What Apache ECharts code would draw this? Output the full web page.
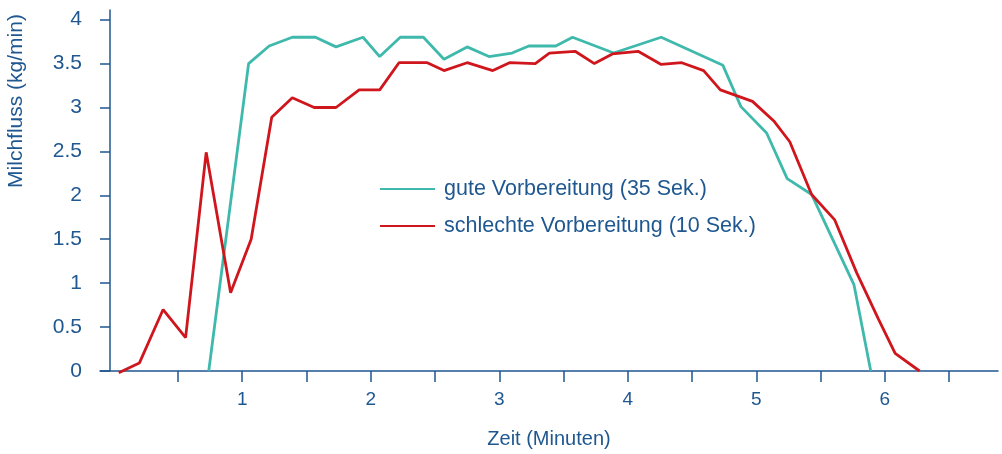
<!DOCTYPE html>
<html lang="de">
<head>
    <meta charset="UTF-8">
    <title>Milchfluss</title>
    <script src="https://cdn.jsdelivr.net/npm/echarts@6/dist/echarts.min.js"></script>
    <style>
        html, body { margin: 0; padding: 0; background: #fff; }
    </style>
</head>
<body>
    <div id="main" style="width: 1002px; height: 454px;"></div>
    <script>
        // Zeit in Minuten / Milchfluss in kg/min
        const guteZeit = [0.74, 1.05, 1.21, 1.39, 1.57, 1.73, 1.94, 2.07, 2.23, 2.41, 2.57, 2.75, 2.92, 3.10, 3.23, 3.44, 3.57, 3.89, 4.26, 4.74, 4.88, 5.08, 5.24, 5.43, 5.76, 5.89]
        const guteFluss = [0, 3.50, 3.70, 3.80, 3.80, 3.69, 3.80, 3.58, 3.80, 3.80, 3.55, 3.69, 3.58, 3.62, 3.70, 3.70, 3.80, 3.62, 3.80, 3.48, 3.01, 2.71, 2.19, 2.01, 0.98, 0]

        const schlechteZeit = [0.04, 0.20, 0.385, 0.56, 0.72, 0.91, 1.07, 1.23, 1.39, 1.56, 1.73, 1.91, 2.07, 2.22, 2.44, 2.57, 2.75, 2.95, 3.08, 3.28, 3.39, 3.59, 3.74, 3.88, 4.08, 4.26, 4.42, 4.59, 4.72, 4.97, 5.14, 5.26, 5.43, 5.61, 5.78, 5.95, 6.08, 6.27]
        const schlechteFluss = [-0.02, 0.09, 0.70, 0.38, 2.49, 0.89, 1.50, 2.89, 3.11, 3.00, 3.00, 3.20, 3.20, 3.51, 3.51, 3.42, 3.51, 3.42, 3.51, 3.50, 3.62, 3.64, 3.50, 3.61, 3.64, 3.49, 3.51, 3.42, 3.20, 3.07, 2.84, 2.61, 2.01, 1.72, 1.12, 0.59, 0.20, 0]

        const xTicks = [0.5, 1, 1.5, 2, 2.5, 3, 3.5, 4, 4.5, 5, 5.5, 6, 6.5]
        const xLabels = [1, 2, 3, 4, 5, 6]
        const yTicks = [0, 0.5, 1, 1.5, 2, 2.5, 3, 3.5, 4]

        const serienNamen = ['gute Vorbereitung (35 Sek.)', 'schlechte Vorbereitung (10 Sek.)']

        const blau = '#1f5790'
        const font = 'Liberation Sans, Arial, sans-serif'

        function paare (xs, ys) {
            return xs.map((x, i) => [x, ys[i]])
        }

        function init () {
            const myChart = echarts.init(document.getElementById('main'))
            const option = {
                animation: false,
                textStyle: { fontFamily: font },
                grid: { left: 100, right: 4, top: 10, bottom: 82 },
                legend: {
                    orient: 'vertical',
                    left: 374,
                    top: 173,
                    itemWidth: 55,
                    itemHeight: 14,
                    itemGap: 15,
                    // nur die Linie, kein Punkt
                    itemStyle: { opacity: 0 },
                    textStyle: { fontSize: 21.5, color: blau, fontFamily: font, padding: [0, 0, 0, 4] },
                    data: serienNamen
                },
                graphic: [
                    {
                        type: 'text',
                        x: 16,
                        y: 101,
                        rotation: Math.PI / 2,
                        style: {
                            text: 'Milchfluss (kg/min)',
                            fill: blau,
                            font: '21px ' + font,
                            textAlign: 'center',
                            textVerticalAlign: 'middle'
                        }
                    }
                ],
                xAxis: {
                    type: 'value',
                    min: -0.106,
                    max: 6.88,
                    name: 'Zeit (Minuten)',
                    nameLocation: 'middle',
                    nameGap: 58,
                    nameTextStyle: { fontSize: 20, color: blau },
                    axisLine: { onZero: false, lineStyle: { color: blau, width: 1.5 } },
                    axisTick: { show: true, length: 11, customValues: xTicks, lineStyle: { color: blau, width: 1.5 } },
                    axisLabel: { customValues: xLabels, margin: 19, fontSize: 19, color: blau },
                    splitLine: { show: false }
                },
                yAxis: {
                    type: 'value',
                    min: 0,
                    max: 4.11,
                    offset: -10,
                    axisLine: { show: true, onZero: false, lineStyle: { color: blau, width: 1.5 } },
                    axisTick: { show: true, length: 10, customValues: yTicks, lineStyle: { color: blau, width: 1.5 } },
                    axisLabel: { customValues: yTicks, margin: 28, fontSize: 21, color: blau },
                    splitLine: { show: false }
                },
                series: [
                    {
                        name: serienNamen[0],
                        type: 'line',
                        symbol: 'none',
                        clip: false,
                        color: '#3fb9ac',
                        lineStyle: { width: 2.8, color: '#3fb9ac' },
                        data: paare(guteZeit, guteFluss)
                    },
                    {
                        name: serienNamen[1],
                        type: 'line',
                        symbol: 'none',
                        clip: false,
                        color: '#d0161d',
                        lineStyle: { width: 2.8, color: '#d0161d' },
                        data: paare(schlechteZeit, schlechteFluss)
                    }
                ]
            }
            myChart.setOption(option)
        }

        init()
    </script>
</body>
</html>
